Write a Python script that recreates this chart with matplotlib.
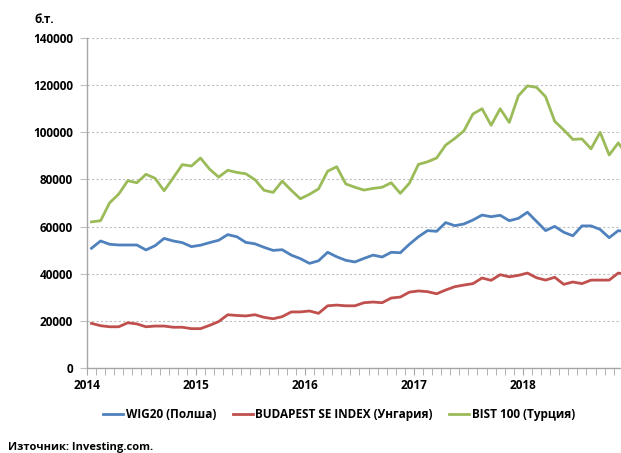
import matplotlib.pyplot as plt
from matplotlib.ticker import FixedLocator

plt.rcParams['font.family'] = ['Open Sans', 'DejaVu Sans']
plt.rcParams['font.weight'] = 'bold'

# monthly values, Jan 2014 .. Dec 2018
wig20 = [50800, 53900, 52500, 52200, 52200, 52200, 50100, 51900, 55000, 53900,
         53200, 51500, 52100, 53200, 54200, 56600, 55700, 53300, 52700, 51200,
         49900, 50200, 47900, 46400, 44400, 45500, 49100, 47200, 45700, 45000,
         46500, 47900, 47100, 49100, 48900, 52500, 55700, 58300, 58000, 61700,
         60400, 61100, 62800, 64900, 64200, 64800, 62500, 63500, 66100, 62200,
         58300, 60100, 57600, 56100, 60300, 60300, 58800, 55300, 58300, 57700]
bux = [18950, 17950, 17500, 17500, 19200, 18700, 17500, 17800, 17800, 17300,
       17300, 16700, 16700, 18100, 19700, 22600, 22300, 22100, 22600, 21500,
       20900, 21800, 23800, 23800, 24200, 23200, 26400, 26700, 26400, 26400,
       27700, 28000, 27700, 29700, 30100, 32200, 32700, 32400, 31500, 33100,
       34500, 35200, 35800, 38200, 37200, 39600, 38700, 39300, 40300, 38300,
       37300, 38500, 35500, 36500, 35800, 37300, 37300, 37300, 40300, 39600]
bist100 = [62000, 62500, 70100, 73800, 79500, 78600, 82200, 80500, 75200, 80700,
           86300, 85700, 89100, 84400, 81000, 83900, 83000, 82400, 79900, 75400,
           74500, 79300, 75400, 71800, 73700, 76000, 83500, 85400, 78100, 76700,
           75500, 76200, 76700, 78600, 74100, 78400, 86400, 87500, 89100, 94600,
           97400, 100600, 107800, 110000, 103000, 110000, 104200, 115500, 119700, 119100,
           115100, 104700, 101000, 97000, 97200, 93000, 100000, 90400, 95500, 90000]
years = ["2014", "2015", "2016", "2017", "2018"]
series_names = ["WIG20 (Полша)", "BUDAPEST SE INDEX (Унгария)", "BIST 100 (Турция)"]
colors = ["#4F81BD", "#C0504D", "#9BBB59"]

fig = plt.figure(figsize=(6.21, 4.53), dpi=100)
ax = fig.add_axes([0.140, 0.1876, 0.860, 0.7284])

x = list(range(len(wig20)))
for vals, name, c in zip([wig20, bux, bist100], series_names, colors):
    ax.plot(x, vals, color=c, lw=2.0, label=name, solid_joinstyle='round')

ax.set_xlim(-0.5, 58.3)
ax.set_ylim(0, 140000)
ax.set_yticks(range(0, 140001, 20000))
ax.set_xticks([-0.5 + 12 * i for i in range(len(years))])
ax.set_xticklabels(years)
ax.xaxis.set_minor_locator(FixedLocator([-0.5 + i for i in range(60)]))

ax.grid(axis='y', color='#BFBFBF', lw=0.8, ls=(0, (2, 2)))
ax.set_axisbelow(True)
for s in ['top', 'right']:
    ax.spines[s].set_visible(False)
for s in ['left', 'bottom']:
    ax.spines[s].set_color('#A6A6A6')
    ax.spines[s].set_linewidth(1.0)

ax.tick_params(axis='x', which='both', length=5, color='#A6A6A6', pad=3,
               labelsize=8.5)
ax.tick_params(axis='y', length=5, color='#BFBFBF', pad=5, labelsize=8.5)

fig.text(0.072, 0.957, "б.т.", fontsize=8.5, fontweight='bold', ha='center', va='center')

fig.legend(loc='center', bbox_to_anchor=(0.546, 0.084), ncol=3, frameon=False,
           fontsize=8.5, handlelength=1.7, handletextpad=0.2, columnspacing=1.4)

fig.text(0.013, 0.013, "Източник: Investing.com.", fontsize=8, fontweight='bold',
         ha='left', va='center')

fig.savefig("out.png", dpi=100)
